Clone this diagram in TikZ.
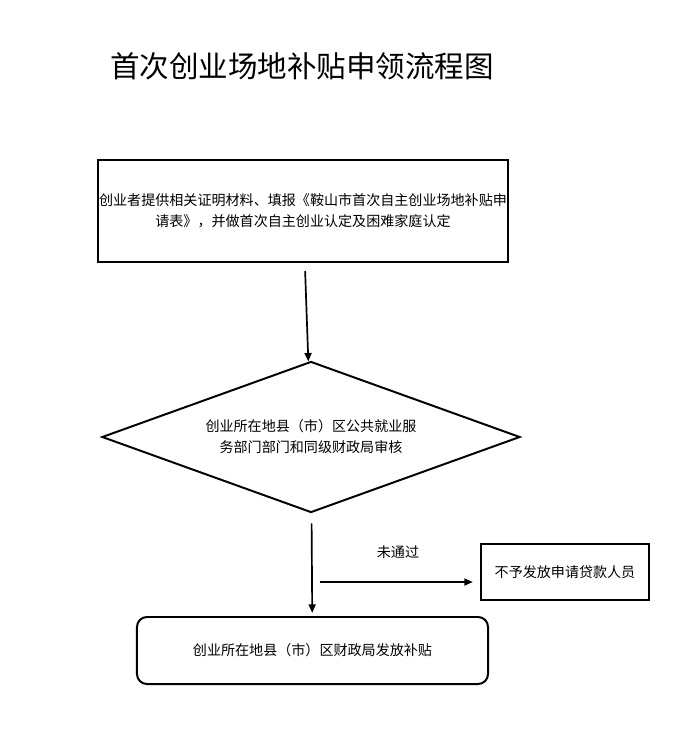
\documentclass[tikz,border=0pt]{standalone}
\usepackage{fontspec}
\setmainfont{Noto Sans CJK SC}
\usetikzlibrary{arrows.meta,positioning,calc,shapes.geometric}

\tikzset{
  flowbox/.style={draw,line width=1.4pt,align=center,inner sep=1pt,
    font=\fontsize{10}{15}\selectfont},
  flowarrow/.style={line width=1.2pt,-{Triangle[length=6pt,width=5pt]}},
}

\begin{document}
\begin{tikzpicture}[x=0.025cm,y=-0.025cm]
    \useasboundingbox (0,0) rectangle (676,746);

    % Title
    \node[font=\fontsize{21}{24}\selectfont] (title) at (302,66) {首次创业场地补贴申领流程图};

    % Flow boxes
    \node[flowbox,minimum width=10.15cm,minimum height=2.55cm] (apply) at (303,211)
        {创业者提供相关证明材料、填报《鞍山市首次自主创业场地补贴申\\请表》，并做首次自主创业认定及困难家庭认定};
    \node[flowbox,diamond,aspect=2.77,inner sep=0pt,minimum width=10.45cm,minimum height=3.775cm] (check) at (311,437)
        {创业所在地县（市）区公共就业服\\务部门部门和同级财政局审核};
    \node[flowbox,minimum width=4.2cm,minimum height=1.4cm] (reject) at (565,572)
        {不予发放申请贷款人员};
    \node[flowbox,rounded corners=0.25cm,minimum width=8.775cm,minimum height=1.675cm] (pay) at (312.5,650.5)
        {创业所在地县（市）区财政局发放补贴};

    % Connectors
    \draw[flowarrow,shorten <=0.2cm] (apply) -- (check);
    \draw[flowarrow,shorten <=0.25cm,shorten >=0.08cm] (check) -- (pay);

    \coordinate (branch) at (320,582);
    \draw[flowarrow,shorten >=0.18cm] (branch) -- (branch -| reject.west);
    \node[font=\fontsize{10}{12}\selectfont] (failed) at (398,552) {未通过};
\end{tikzpicture}
\end{document}
